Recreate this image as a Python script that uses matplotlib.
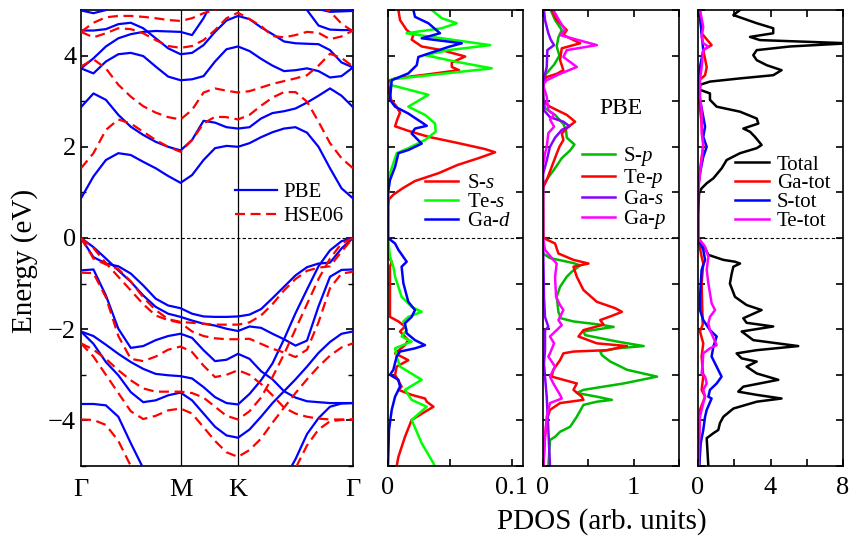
import numpy as np
import matplotlib
matplotlib.use('Agg')
import matplotlib.pyplot as plt
from matplotlib.ticker import MultipleLocator

size = 19
params = {'font.family': 'Liberation Serif',
          'mathtext.fontset': 'custom',
          'mathtext.rm': 'Liberation Serif',
          'mathtext.it': 'Liberation Serif:italic',
          'axes.linewidth': 1.2,
          'xtick.labelsize': size,
          'ytick.labelsize': size,
          'legend.fontsize': 15}
plt.rcParams.update(params)

# ---- band structure: high-symmetry path G-M-K-G ----
k_nodes = [0.0, 1.0, 1.577, 2.732]
k_names = ['Γ', 'M', 'K', 'Γ']
# 9 points G-M, 5 points M-K, 10 points K-G
kpts = np.concatenate([np.linspace(0, 1.0, 9),
                       np.linspace(1.0, 1.577, 6)[1:],
                       np.linspace(1.577, 2.732, 11)[1:]])

# PBE bands (eV)
pbe_c1 = [0.87, 1.35, 1.71, 1.86, 1.82, 1.67, 1.53, 1.36, 1.21, 1.38, 1.71, 1.97, 2.02, 2.00,
          2.08, 2.21, 2.32, 2.40, 2.43, 2.31, 2.00, 1.53, 1.09, 0.87]
pbe_c2 = [2.87, 3.17, 3.03, 2.70, 2.44, 2.26, 2.11, 2.00, 1.92, 2.15, 2.57, 2.53, 2.43, 2.40,
          2.43, 2.62, 2.74, 2.78, 2.84, 2.97, 3.12, 3.28, 3.12, 2.87]
pbe_c3 = [3.72, 3.61, 3.87, 4.03, 4.06, 3.99, 3.76, 3.54, 3.46, 3.48, 3.55, 3.87, 4.14, 4.20,
          4.10, 3.93, 3.78, 3.66, 3.68, 3.72, 3.66, 3.52, 3.55, 3.74]
pbe_c4 = [3.72, 3.94, 4.20, 4.38, 4.47, 4.52, 4.54, 4.53, 4.52, 4.45, 4.82, 5.30, 5.50, 5.60,
          5.60, 5.55, 5.50, 5.40, 5.30, 5.00, 4.66, 4.57, 4.56, 4.56]
pbe_c5 = [4.55, 4.55, 4.58, 4.69, 4.72, 4.60, 4.38, 4.16, 4.03, 4.06, 4.23, 4.52, 4.77, 4.87,
          4.80, 4.62, 4.47, 4.31, 4.27, 4.26, 4.25, 4.12, 3.85, 3.74]
pbe_c6 = [4.99, 4.93, 5.00, 5.20, 5.30, 5.40, 5.40, 5.40, 5.40, 5.40, 5.30, 5.20, 5.10, 5.05,
          5.10, 5.20, 5.30, 5.30, 5.25, 5.15, 5.02, 4.96, 4.97, 4.98]
pbe_va = [0.00, -0.42, -0.56, -0.62, -0.78, -1.04, -1.33, -1.48, -1.54, -1.66, -1.72, -1.73, -1.73, -1.72,
          -1.68, -1.56, -1.32, -1.07, -0.82, -0.64, -0.56, -0.54, -0.23, 0.00]
pbe_vb = [0.00, -0.20, -0.45, -0.71, -0.96, -1.26, -1.51, -1.66, -1.73, -1.81, -1.88, -1.92, -1.99, -2.04,
          -1.94, -1.97, -2.10, -2.22, -2.36, -2.25, -1.50, -0.85, -0.70, -0.69]
pbe_vc = [-0.71, -0.69, -1.26, -1.99, -2.41, -2.37, -2.24, -2.15, -2.10, -2.19, -2.46, -2.70, -2.67, -2.54,
          -2.65, -2.92, -3.10, -3.36, -3.50, -3.58, -3.60, -3.62, -3.62, -3.62]
pbe_vd = [-2.05, -2.15, -2.34, -2.54, -2.72, -2.87, -2.98, -3.01, -3.03, -3.08, -3.27, -3.49, -3.62, -3.65,
          -3.42, -3.12, -2.75, -2.22, -1.65, -1.13, -0.62, -0.27, -0.07, 0.00]
pbe_ve = [-2.05, -2.32, -2.72, -3.01, -3.38, -3.60, -3.56, -3.45, -3.39, -3.56, -3.85, -4.14, -4.33, -4.38,
          -4.20, -3.92, -3.62, -3.36, -3.10, -2.82, -2.52, -2.28, -2.10, -2.05]
pbe_vf = [-3.64, -3.64, -3.67, -3.92, -4.50, -5.05, -5.50, -5.90, -6.10, -6.20, -6.30, -6.30, -6.30, -6.30,
          -6.20, -6.00, -5.70, -5.30, -4.85, -4.30, -3.95, -3.70, -3.63, -3.62]

# HSE06 bands (eV)
hse_c1 = [1.53, 1.86, 2.37, 2.60, 2.51, 2.33, 2.15, 2.00, 1.89, 2.15, 2.51, 2.66, 2.65, 2.60,
          2.70, 2.90, 3.08, 3.20, 3.20, 2.99, 2.55, 2.08, 1.75, 1.53]
hse_c2 = [3.76, 3.92, 3.72, 3.36, 3.10, 2.89, 2.75, 2.65, 2.60, 2.81, 3.19, 3.28, 3.23, 3.19,
          3.22, 3.30, 3.38, 3.44, 3.50, 3.57, 3.78, 4.04, 3.95, 3.76]
hse_c3 = [4.52, 4.40, 4.49, 4.60, 4.58, 4.49, 4.34, 4.21, 4.17, 4.21, 4.34, 4.56, 4.82, 4.94,
          4.80, 4.65, 4.43, 4.40, 4.45, 4.52, 4.50, 4.36, 4.42, 4.55]
hse_c4 = [4.52, 4.72, 4.84, 4.87, 4.87, 4.85, 4.82, 4.78, 4.76, 4.82, 4.93, 5.00, 5.10, 5.15,
          5.20, 5.30, 5.30, 5.30, 5.30, 5.25, 5.10, 4.97, 4.70, 4.53]
hse_va = [0.00, -0.45, -0.58, -0.68, -0.95, -1.30, -1.58, -1.78, -1.84, -1.86, -1.88, -1.90, -1.90, -1.90,
          -1.85, -1.70, -1.45, -1.15, -0.90, -0.72, -0.65, -0.62, -0.30, 0.00]
hse_vb = [0.00, -0.22, -0.55, -0.85, -1.15, -1.45, -1.70, -1.80, -1.86, -2.05, -2.15, -2.20, -2.22, -2.22,
          -2.21, -2.32, -2.43, -2.51, -2.61, -2.45, -1.85, -1.10, -0.78, -0.74]
hse_vc = [-0.76, -0.77, -1.30, -2.15, -2.65, -2.70, -2.60, -2.45, -2.38, -2.50, -2.80, -3.05, -3.00, -2.90,
          -3.00, -3.20, -3.45, -3.72, -3.85, -3.92, -3.96, -3.98, -3.98, -3.98]
hse_vd = [-2.31, -2.45, -2.65, -2.90, -3.12, -3.30, -3.37, -3.37, -3.37, -3.40, -3.50, -3.70, -3.90, -3.98,
          -3.80, -3.50, -3.05, -2.55, -2.00, -1.45, -0.90, -0.45, -0.12, 0.00]
hse_ve = [-2.31, -2.60, -3.00, -3.40, -3.80, -3.97, -3.90, -3.78, -3.74, -3.85, -4.15, -4.45, -4.70, -4.80,
          -4.65, -4.40, -4.05, -3.72, -3.40, -3.10, -2.82, -2.58, -2.40, -2.31]
hse_vf = [-3.98, -3.99, -4.10, -4.45, -5.00, -5.50, -5.90, -6.20, -6.40, -6.50, -6.60, -6.60, -6.60, -6.60,
          -6.50, -6.30, -6.00, -5.60, -5.05, -4.55, -4.20, -4.02, -3.99, -3.98]

pbe_bands = [pbe_c1, pbe_c2, pbe_c3, pbe_c4, pbe_c5, pbe_c6,
             pbe_va, pbe_vb, pbe_vc, pbe_vd, pbe_ve, pbe_vf]
hse_bands = [hse_c1, hse_c2, hse_c3, hse_c4,
             hse_va, hse_vb, hse_vc, hse_vd, hse_ve, hse_vf]

# ---- PDOS, (energy eV, PDOS) pairs ----
# panel 2: s and d states
dos_s_s = [(5.0, .0084), (4.78, .0097), (4.56, .0151), (4.45, .0205), (4.35, .0191), (4.2, .0272),
           (4.12, .0434), (3.98, .0623), (3.85, .0515), (3.75, .0515), (3.68, .0574), (3.58, .0299),
           (3.5, .0057), (3.45, .0008), (3.2, .0008), (3.0, .003), (2.9, .0065), (2.75, .0097),
           (2.6, .0075), (2.45, .0057), (2.35, .0164), (2.22, .0326), (2.08, .0569), (1.95, .0784),
           (1.88, .0865), (1.75, .073), (1.6, .056), (1.42, .0407), (1.25, .0218), (1.1, .0124),
           (0.95, .0043), (0.85, .0008), (0.7, 0.0), (0.0, 0.0), (-0.41, 0.0), (-0.52, .003),
           (-0.63, .0016), (-1.73, .0016), (-1.83, .0084), (-1.94, .0137), (-2.05, .0097),
           (-2.24, .0164), (-2.35, .0137), (-2.53, .0057), (-2.68, .0164), (-2.82, .007), (-3.0, .0057),
           (-3.26, .011), (-3.33, .0084), (-3.44, .0191), (-3.52, .0299), (-3.59, .0313), (-3.7, .0367),
           (-3.81, .0299), (-3.99, .0191), (-4.36, .0137), (-4.8, .0084), (-5.0, .007)]
dos_te_s = [(5.0, .0353), (4.82, .0434), (4.71, .0555), (4.6, .0434), (4.49, .015), (4.38, .0434),
            (4.23, .0825), (4.12, .0488), (4.01, .0299), (3.87, .0542), (3.72, .0838), (3.6, .0434),
            (3.48, .003), (3.36, .0016), (3.14, .0326), (2.88, .0164), (2.7, .0299), (2.51, .038),
            (2.33, .0385), (2.15, .0299), (1.97, .0164), (1.86, .007), (1.42, .0016), (1.13, .0003),
            (0.0, 0.0), (-0.41, .0016), (-0.63, .0043), (-0.85, .0057), (-1.29, .011), (-1.51, .0191),
            (-1.62, .0272), (-1.73, .0164), (-1.83, .0124), (-2.02, .0151), (-2.16, .011), (-2.27, .0191),
            (-2.42, .0057), (-2.6, .007), (-2.82, .0097), (-3.11, .0272), (-3.33, .0137), (-3.55, .0191),
            (-3.7, .0313), (-3.99, .0191), (-4.5, .0272), (-4.94, .0367), (-5.0, .0375)]
dos_ga_d = [(5.0, .0205), (4.85, .0218), (4.71, .0326), (4.49, .042), (4.38, .0272), (4.27, .0596),
            (4.19, .0488), (3.97, .0245), (3.79, .0232), (3.61, .0164), (3.46, .003), (3.03, .0016),
            (2.88, .0057), (2.73, .0164), (2.51, .0286), (2.46, .0313), (2.4, .0218), (2.29, .0191),
            (2.07, .0272), (1.93, .0164), (1.86, .0084), (1.56, .0057), (1.27, .0016), (0.98, 0.0),
            (0.0, 0.0), (-0.12, .0057), (-0.26, .0084), (-0.52, .0151), (-0.63, .011), (-0.99, .0124),
            (-1.4, .0164), (-1.58, .0218), (-1.73, .0191), (-1.87, .0137), (-2.09, .0151), (-2.24, .0218),
            (-2.35, .0299), (-2.42, .0218), (-2.49, .0097), (-2.6, .007), (-2.89, .0043), (-3.0, .0016),
            (-3.11, .0084), (-3.26, .0097), (-3.48, .0057), (-3.77, .003), (-4.21, .0008), (-5.0, 0.0)]

# panel 3: p states and Ga-s
dos_s_p = [(5.0, .085), (4.78, .133), (4.56, .207), (4.4, .17), (4.2, .151), (4.0, .181), (3.8, .122),
           (3.6, .033), (3.45, .004), (3.1, 0.0), (2.85, .022), (2.7, .133), (2.5, .225), (2.35, .255),
           (2.2, .262), (2.05, .347), (1.92, .299), (1.75, .207), (1.5, .122), (1.3, .048), (1.2, .011),
           (1.0, 0.0), (0.0, 0.0), (-0.34, 0.0), (-0.44, .077), (-0.55, .336), (-0.6, .41), (-0.74, .317),
           (-0.85, .262), (-1.07, .188), (-1.29, .151), (-1.62, .17), (-1.76, .196), (-1.83, .336),
           (-1.9, .631), (-1.95, .779), (-2.05, .446), (-2.13, .465), (-2.27, .815), (-2.37, 1.11),
           (-2.42, .815), (-2.49, .631), (-2.57, .65), (-2.71, .742), (-2.78, .815), (-2.89, .926),
           (-3.04, 1.258), (-3.19, .889), (-3.33, .446), (-3.4, .373), (-3.48, .594), (-3.55, .76),
           (-3.59, .594), (-3.66, .446), (-3.92, .373), (-4.14, .299), (-4.25, .188), (-4.36, .133),
           (-4.43, .077), (-5.0, .059)]
dos_te_p = [(5.0, .096), (4.78, .151), (4.56, .262), (4.45, .225), (4.27, .41), (4.16, .207), (3.9, .188),
            (3.68, .225), (3.6, .151), (3.53, .041), (3.45, 0.0), (3.0, 0.0), (2.88, .077), (2.7, .262),
            (2.55, .354), (2.44, .28), (2.29, .207), (2.15, .225), (2.0, .181), (1.85, .151), (1.56, .096),
            (1.27, .041), (1.1, 0.0), (0.0, .004), (-0.12, .133), (-0.34, .17), (-0.48, .336), (-0.56, .502),
            (-0.63, .336), (-0.85, .373), (-1.14, .446), (-1.4, .594), (-1.54, .797), (-1.62, .871),
            (-1.72, .742), (-1.8, .631), (-1.9, .668), (-2.02, .446), (-2.16, .391), (-2.31, .594),
            (-2.37, .926), (-2.46, .705), (-2.49, .336), (-2.53, .225), (-2.68, .188), (-2.89, .114),
            (-3.04, .096), (-3.11, .225), (-3.19, .373), (-3.33, .336), (-3.48, .428), (-3.55, .446),
            (-3.62, .188), (-3.77, .077), (-3.99, .041), (-4.36, .022), (-5.0, .004)]
dos_ga_s = [(5.0, .011), (4.78, .022), (4.49, .059), (4.35, .085), (4.23, .122), (4.12, .048), (3.75, .041),
            (3.5, .011), (3.2, 0.0), (2.8, .011), (2.65, .077), (2.55, .225), (2.45, .292), (2.37, .207),
            (2.2, .133), (2.0, .077), (1.7, .041), (1.4, 0.0), (0.0, 0.0), (-1.3, .011), (-1.73, .022),
            (-1.95, .059), (-2.02, .022), (-2.46, .022), (-2.75, .011), (-3.04, .022), (-3.48, .041),
            (-4.21, .059), (-5.0, .077)]
dos_ga_p = [(5.0, .114), (4.8, .17), (4.56, .244), (4.45, .188), (4.23, .594), (4.12, .262), (3.97, .225),
            (3.75, .373), (3.6, .188), (3.46, .041), (3.36, 0.0), (3.1, .041), (2.8, .059), (2.7, .122),
            (2.6, .077), (2.44, .122), (2.3, .059), (2.0, .041), (1.85, .022), (1.6, 0.0), (0.0, 0.0),
            (-0.26, .022), (-0.48, .114), (-0.56, .151), (-0.85, .133), (-1.29, .144), (-1.47, .188),
            (-1.58, .225), (-1.8, .17), (-1.91, .207), (-2.02, .151), (-2.16, .077), (-2.31, .122),
            (-2.53, .077), (-2.6, .059), (-2.82, .133), (-3.04, .077), (-3.19, .114), (-3.44, .188),
            (-3.52, .207), (-3.62, .077), (-3.92, .041), (-4.36, .022), (-5.0, .004)]

# panel 4: totals
dos_total = [(5.0, 2.32), (4.89, 1.95), (4.71, 3.24), (4.6, 4.15), (4.49, 4.15), (4.41, 2.87), (4.34, 3.42),
             (4.27, 8.3), (4.2, 5.07), (4.12, 3.24), (4.01, 3.05), (3.9, 3.24), (3.79, 3.79), (3.68, 4.61),
             (3.57, 4.15), (3.5, 2.32), (3.43, 0.66), (3.36, 0.11), (3.25, 0.11), (3.17, 0.66), (3.03, 0.66),
             (2.88, 1.03), (2.77, 2.32), (2.62, 3.24), (2.51, 3.33), (2.4, 2.5), (2.33, 2.87), (2.22, 3.14),
             (2.04, 3.51), (1.97, 3.24), (1.86, 2.32), (1.71, 1.58), (1.53, 1.31), (1.31, 0.85), (1.2, 0.48),
             (1.09, 0.2), (0.98, 0.06), (0.5, 0.0), (0.0, 0.0), (-0.15, 0.29), (-0.37, 0.57), (-0.48, 1.4),
             (-0.52, 2.04), (-0.56, 2.32), (-0.63, 1.95), (-0.78, 1.86), (-1.0, 1.76), (-1.29, 2.04),
             (-1.47, 2.68), (-1.58, 3.51), (-1.76, 2.5), (-1.86, 2.68), (-1.94, 4.15), (-2.05, 2.41),
             (-2.24, 3.05), (-2.37, 5.53), (-2.46, 3.24), (-2.53, 2.13), (-2.64, 2.41), (-2.71, 3.24),
             (-2.82, 2.68), (-2.97, 3.24), (-3.11, 4.43), (-3.26, 2.5), (-3.37, 2.22), (-3.44, 3.24),
             (-3.52, 4.61), (-3.59, 3.24), (-3.74, 1.95), (-3.92, 1.4), (-4.06, 1.21), (-4.21, 1.12),
             (-4.28, 0.85), (-4.39, 0.48), (-5.0, 0.57)]
dos_ga_tot = [(5.0, .11), (4.49, .2), (4.23, .75), (4.12, .29), (3.75, .48), (3.57, .39), (3.46, .07),
              (3.0, .07), (2.5, .2), (2.0, .29), (1.5, .11), (1.0, 0.0), (0.0, 0.0), (-0.41, .2), (-0.56, .29),
              (-1.0, .2), (-1.9, .26), (-2.05, .11), (-2.31, .29), (-2.6, .2), (-3.04, .29), (-3.33, .2),
              (-3.48, .39), (-3.77, .11), (-4.21, .07), (-5.0, .07)]
dos_s_tot = [(5.0, .07), (4.49, .2), (4.12, .29), (3.75, .11), (3.54, .07), (3.39, 0.0), (3.03, .11),
             (2.66, .29), (2.44, .39), (2.22, .29), (2.0, .48), (1.78, .29), (1.42, .11), (1.13, 0.0),
             (0.0, 0.0), (-0.26, .29), (-0.48, .39), (-0.7, .2), (-1.29, .11), (-1.58, .11), (-1.8, .29),
             (-2.02, .66), (-2.16, 1.03), (-2.38, .85), (-2.6, .75), (-2.75, .94), (-3.04, 1.3), (-3.19, 1.03),
             (-3.33, .66), (-3.48, .57), (-3.52, .75), (-3.77, .48), (-3.92, .39), (-4.21, .29), (-4.5, .15),
             (-5.0, .07)]
dos_te_tot = [(5.0, .11), (4.63, .29), (4.41, .2), (4.27, .29), (4.2, .57), (4.12, .29), (3.75, .2),
              (3.46, .11), (3.1, .11), (2.81, .2), (2.3, .2), (2.08, .29), (1.71, .2), (1.27, .07), (1.0, 0.0),
              (0.0, 0.0), (-0.19, .39), (-0.41, .57), (-0.7, .48), (-0.99, .57), (-1.43, .75), (-1.58, .94),
              (-1.73, .66), (-1.87, .57), (-2.02, .66), (-2.35, 1.03), (-2.42, .66), (-2.53, .29),
              (-2.75, .26), (-2.97, .2), (-3.04, .39), (-3.19, .48), (-3.33, .29), (-3.48, .39),
              (-3.62, .29), (-3.92, .11), (-4.36, .07), (-5.0, .04)]

W, H = 850, 541
fig = plt.figure(figsize=(W / 100, H / 100), dpi=100)

def box(x0, x1, y0=10, y1=466):
    return [x0 / W, 1 - y1 / H, (x1 - x0) / W, (y1 - y0) / H]

ax0 = fig.add_axes(box(81, 353))
ax1 = fig.add_axes(box(388, 523))
ax2 = fig.add_axes(box(543, 679))
ax3 = fig.add_axes(box(698, 843))

# band structure
for i, b in enumerate(pbe_bands):
    ax0.plot(kpts, b, color='#0000ff', lw=1.6, label='PBE' if i == 0 else None, zorder=3)
for i, b in enumerate(hse_bands):
    ax0.plot(kpts, b, color='#ff0000', lw=1.6, dashes=(4.5, 2.5),
             label='HSE06' if i == 0 else None, zorder=4)
for kn in k_nodes[1:-1]:
    ax0.axvline(kn, color='k', lw=0.9, zorder=1)
ax0.set_xlim(k_nodes[0], k_nodes[-1])
ax0.set_xticks(k_nodes)
ax0.set_xticklabels(k_names)
ax0.tick_params(axis='x', length=0, pad=9)
ax0.yaxis.set_major_locator(MultipleLocator(2))
ax0.yaxis.set_minor_locator(MultipleLocator(1))
ax0.tick_params(axis='y', which='both', direction='in', left=True, right=True)
ax0.tick_params(axis='y', which='major', length=5, width=1.2)
ax0.tick_params(axis='y', which='minor', length=3.5, width=1.0)
ax0.set_ylabel('Energy (eV)', fontsize=21, labelpad=0)
ax0.yaxis.set_label_coords(-0.158, 0.45)
ax0.legend(loc='lower right', bbox_to_anchor=(1.01, 0.499), frameon=False,
           handlelength=2.0, handletextpad=0.3, labelspacing=0.2, borderaxespad=0.2)

def pdos(ax, pairs, color, label):
    arr = np.array(pairs)
    ax.plot(arr[:, 1], arr[:, 0], color=color, lw=1.8, label=label)

pdos(ax1, dos_s_s, '#ff0000', r'S-$s$')
pdos(ax1, dos_te_s, '#00ff00', r'Te-$s$')
pdos(ax1, dos_ga_d, '#0000ff', r'Ga-$d$')
ax1.set_xlim(0, 0.109)
ax1.set_xticks([0, 0.1])
ax1.set_xticklabels(['0', '0.1'])
ax1.xaxis.set_minor_locator(MultipleLocator(0.05))

pdos(ax2, dos_s_p, '#00bb00', r'S-$p$')
pdos(ax2, dos_te_p, '#ff0000', r'Te-$p$')
pdos(ax2, dos_ga_s, '#8a00ff', r'Ga-$s$')
pdos(ax2, dos_ga_p, '#ff00ff', r'Ga-$p$')
ax2.set_xlim(0, 1.5)
ax2.set_xticks([0, 1])
ax2.xaxis.set_minor_locator(MultipleLocator(0.5))
ax2.text(0.574, 0.785, 'PBE', transform=ax2.transAxes, ha='center', va='center', fontsize=17)

pdos(ax3, dos_total, 'k', 'Total')
pdos(ax3, dos_ga_tot, '#ff0000', 'Ga-tot')
pdos(ax3, dos_s_tot, '#0000ff', 'S-tot')
pdos(ax3, dos_te_tot, '#ff00ff', 'Te-tot')
ax3.set_xlim(0, 8)
ax3.set_xticks([0, 4, 8])
ax3.xaxis.set_minor_locator(MultipleLocator(2))

for ax in (ax1, ax2, ax3):
    ax.yaxis.set_major_locator(MultipleLocator(1))
    ax.tick_params(axis='y', which='both', direction='in', left=True, right=True,
                   labelleft=False, length=5, width=1.2)
    ax.tick_params(axis='x', which='both', direction='in', top=True, bottom=True, width=1.2)
    ax.tick_params(axis='x', which='major', length=5, pad=8)
    ax.tick_params(axis='x', which='minor', length=5)
    ax.legend(loc='lower right', bbox_to_anchor=(1.0, 0.488), frameon=False,
              handlelength=1.6, handletextpad=0.4, labelspacing=-0.04, borderaxespad=0.2)

for ax in (ax0, ax1, ax2, ax3):
    ax.set_ylim(-5, 5)
    ax.axhline(0, color='k', lw=0.8, dashes=(3, 2), zorder=0)

fig.text(602 / W, 1 - 522 / H, 'PDOS (arb. units)', ha='center', va='center', fontsize=21)

fig.savefig('out.png', dpi=100)
